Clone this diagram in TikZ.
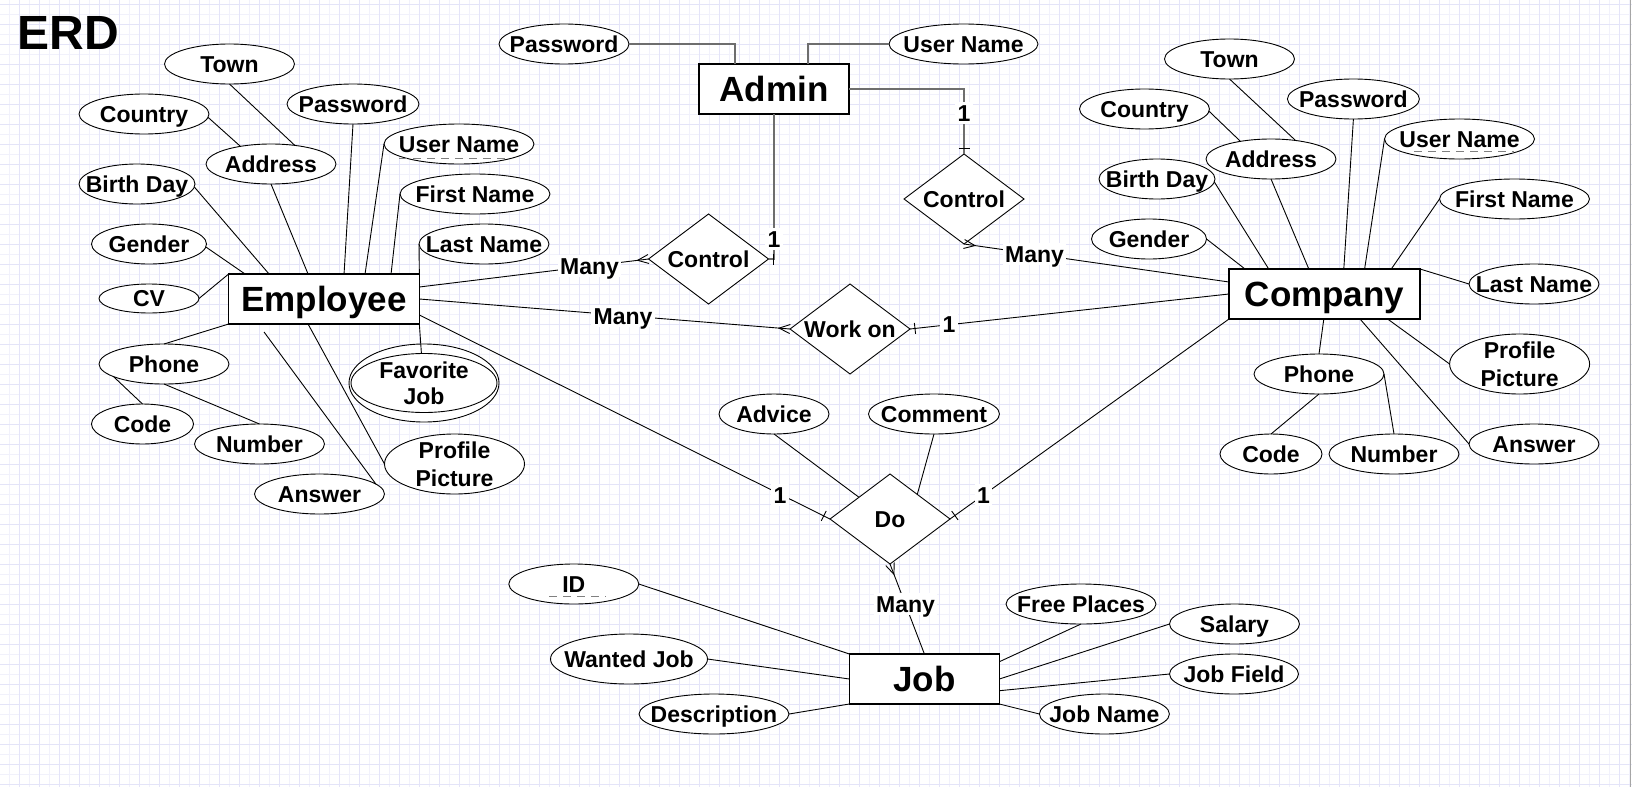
\documentclass[tikz,border=0pt]{standalone}
\usepackage{fontspec}
\setmainfont{Liberation Sans}
\usetikzlibrary{shapes.geometric,calc}
\definecolor{admgray}{RGB}{110,110,110}
\definecolor{gridmaj}{RGB}{228,228,248}
\definecolor{gridmin}{RGB}{241,241,251}
\newcommand\attrfont{\fontsize{23}{27}\selectfont\bfseries}
\newcommand\entfont{\fontsize{35}{40}\selectfont\bfseries}
\newcommand\crowfoot[2]{%
  \draw[conn] ($(#1)!4.5pt!90:(#2)$) -- ($(#1)!11pt!(#2)$) -- ($(#1)!4.5pt!-90:(#2)$);}
\newcommand\onetick[3]{%
  \coordinate (tk) at ($(#1)!#3!(#2)$);
  \draw[conn] ($(tk)!5.5pt!90:(#2)$) -- ($(tk)!5.5pt!-90:(#2)$);}
\begin{document}
\begin{tikzpicture}[x=1pt,y=-1pt,
  attr/.style={ellipse, draw, line width=0.9pt, fill=white, inner sep=0pt, outer sep=0pt, minimum height=40pt},
  txt/.style={font=\attrfont, inner sep=0pt, text height=16.6pt, text depth=0pt},
  ent/.style={rectangle, draw, line width=1.1pt, fill=white, inner sep=0pt, outer sep=0pt, minimum height=50pt, font=\entfont, text height=25pt, text depth=0pt},
  rel/.style={diamond, draw, line width=0.9pt, fill=white, inner sep=0pt, outer sep=0pt, minimum width=120pt, minimum height=90pt},
  conn/.style={line width=0.9pt, black},
  adm/.style={line width=1.6pt, admgray},
  card/.style={font=\attrfont, fill=white, inner sep=2.5pt, text height=16.6pt, text depth=0pt},
  keyline/.style={draw=gray, line width=1.4pt, dash pattern=on 8pt off 6pt},
  every label/.style={txt}
]
\useasboundingbox (0,0) rectangle (1632,787);
\fill[white] (0,0) rectangle (1632,787);
% grid
\foreach \k in {0,...,81} {\draw[gridmin, line width=1pt] (9.3+20*\k,0) -- (9.3+20*\k,787);}
\foreach \k in {0,...,39} {\draw[gridmin, line width=1pt] (0,14.3+20*\k) -- (1632,14.3+20*\k);}
\foreach \k in {0,...,81} {\draw[gridmaj, line width=1pt] (19.3+20*\k,0) -- (19.3+20*\k,787);}
\foreach \k in {0,...,39} {\draw[gridmaj, line width=1pt] (0,4.3+20*\k) -- (1632,4.3+20*\k);}
\draw[gray!70, line width=1pt] (1630.5,0) -- (1630.5,787);

\node[font=\fontsize{48}{52}\selectfont\bfseries, anchor=base west, inner sep=0pt] (title) at (17.5,49.5) {ERD};

% ---------- Employee ----------
\node[ent, minimum width=190.7pt] (emp) at (324,299) {Employee};
\node[attr, minimum width=130pt, label=center:Town] (etown) at (229.5,64) {};
\node[attr, minimum width=130pt, label=center:Country] (ecountry) at (144,114) {};
\node[attr, minimum width=132pt, label=center:Password] (epw) at (353,104) {};
\node[attr, minimum width=130pt, label=center:Address] (eaddr) at (271,164) {};
\node[attr, minimum width=150pt, label=center:User Name] (eun) at (459,144) {};
\node[attr, minimum width=116pt, label=center:Birth Day] (ebday) at (137,184) {};
\node[attr, minimum width=150pt, label=center:First Name] (efn) at (475,194) {};
\node[attr, minimum width=115pt, label=center:Gender] (egender) at (149,244) {};
\node[attr, minimum width=130pt, label=center:Last Name] (eln) at (484,244) {};
\node[attr, minimum width=100pt, minimum height=29pt, label=center:CV] (ecv) at (149,298.5) {};
\node[attr, minimum width=130pt, label=center:Phone] (ephone) at (164,364) {};
\node[attr, minimum width=102pt, label=center:Code] (ecode) at (142.5,424) {};
\node[attr, minimum width=130pt, label=center:Number] (enum) at (259.5,444) {};
\node[attr, minimum width=130pt, label=center:Answer] (eans) at (319.5,494) {};
\node[attr, minimum width=140pt, minimum height=60pt, label={[yshift=13.7pt]center:Profile}, label={[yshift=-13.7pt]center:Picture}] (eprof) at (454.5,464) {};
\node[attr, minimum width=150pt, minimum height=78pt] (efav) at (424,383) {};
\node[attr, minimum width=146pt, minimum height=59pt, label={[yshift=13.3pt]center:Favorite}, label={[yshift=-13.3pt]center:Job}] (efavin) at (424,383) {};

% ---------- Admin ----------
\node[ent, minimum width=150pt] (admin) at (774,89) {Admin};
\node[attr, minimum width=130pt, label=center:Password] (apw) at (564,44) {};
\node[attr, minimum width=149pt, label=center:User Name] (aun) at (963.5,44) {};

% ---------- Relationships ----------
\node[rel, label=center:Control] (ctrlL) at (708.5,259) {};
\node[rel, label=center:Control] (ctrlR) at (964,199) {};
\node[rel, label=center:Work on] (workon) at (850,329) {};
\node[rel, label=center:Do] (do) at (890,519) {};
\node[attr, minimum width=110pt, label=center:Advice] (dadv) at (774,414) {};
\node[attr, minimum width=131pt, label=center:Comment] (dcom) at (934,414) {};

% ---------- Company ----------
\node[ent, minimum width=191pt] (comp) at (1324.5,294) {Company};
\node[attr, minimum width=130pt, label=center:Town] (ctown) at (1229.5,59) {};
\node[attr, minimum width=130pt, label=center:Country] (ccountry) at (1144.5,109) {};
\node[attr, minimum width=132pt, label=center:Password] (cpw) at (1353.4,99) {};
\node[attr, minimum width=130pt, label=center:Address] (caddr) at (1271,159) {};
\node[attr, minimum width=150pt, label=center:User Name] (cun) at (1459.5,139) {};
\node[attr, minimum width=116pt, label=center:Birth Day] (cbday) at (1157,179) {};
\node[attr, minimum width=150pt, label=center:First Name] (cfn) at (1514.5,199) {};
\node[attr, minimum width=115pt, label=center:Gender] (cgender) at (1149,239) {};
\node[attr, minimum width=130pt, label=center:Last Name] (cln) at (1534,284) {};
\node[attr, minimum width=130pt, label=center:Phone] (cphone) at (1319,374) {};
\node[attr, minimum width=102pt, label=center:Code] (ccode) at (1271,454) {};
\node[attr, minimum width=130pt, label=center:Number] (cnum) at (1394,454) {};
\node[attr, minimum width=140pt, minimum height=60pt, label={[yshift=13.7pt]center:Profile}, label={[yshift=-13.7pt]center:Picture}] (cprof) at (1519.6,364) {};
\node[attr, minimum width=130pt, label=center:Answer] (cans) at (1534,444) {};

% ---------- Job ----------
\node[ent, minimum width=150pt] (job) at (924.4,679) {Job};
\node[attr, minimum width=130pt, label=center:ID] (jid) at (573.8,584) {};
\node[attr, minimum width=157pt, minimum height=50pt, label=center:Wanted Job] (jwant) at (629,659) {};
\node[attr, minimum width=150pt, label=center:Description] (jdesc) at (714,714) {};
\node[attr, minimum width=150pt, label=center:Free Places] (jfree) at (1081,604) {};
\node[attr, minimum width=130pt, label=center:Salary] (jsal) at (1234.5,624) {};
\node[attr, minimum width=129pt, label=center:Job Field] (jfield) at (1234,674) {};
\node[attr, minimum width=130pt, label=center:Job Name] (jname) at (1104.4,714) {};

% key underlines
\draw[keyline] ([xshift=-60pt,yshift=-14.7pt]eun.center) -- ([xshift=48pt,yshift=-14.7pt]eun.center);
\draw[keyline] ([xshift=-45.5pt,yshift=-12.7pt]cun.center) -- ([xshift=54.5pt,yshift=-12.7pt]cun.center);
\draw[keyline] ([xshift=-24.8pt,yshift=-12.7pt]jid.center) -- ([xshift=31.9pt,yshift=-12.7pt]jid.center);

% ---------- Employee attribute lines ----------
\draw[conn] (etown.south) -- (eaddr.38);
\draw[conn] (ecountry.-3) -- (eaddr.150);
\draw[conn] (ebday.-3) -- ([xshift=40.4pt]emp.north west);
\draw[conn] (egender.-3) -- ([xshift=16.4pt]emp.north west);
\draw[conn] (ecv.east) -- (emp.north west);
\draw[conn] (eaddr.south) -- ([xshift=79.4pt]emp.north west);
\draw[conn] (epw.south) -- ([xshift=115.4pt]emp.north west);
\draw[conn] (eun.west) -- ([xshift=136.4pt]emp.north west);
\draw[conn] (efn.west) -- ([xshift=162.4pt]emp.north west);
\draw[conn] (eln.west) -- (emp.north east);
\draw[conn] (emp.south west) -- (ephone.north);
\draw[conn] (ephone.194) -- (ecode.north);
\draw[conn] (ephone.south) -- (enum.north);
\draw[conn] ([xshift=35.4pt,yshift=-8pt]emp.south west) -- (eans.10);
\draw[conn] ([xshift=79.4pt]emp.south west) -- (eprof.west);
\draw[conn] (emp.south east) -- (efavin.95);

% ---------- Company attribute lines ----------
\draw[conn] (ctown.south) -- (caddr.37);
\draw[conn] (ccountry.-2) -- (caddr.150);
\draw[conn] (cbday.-3) -- ([xshift=39.7pt]comp.north west);
\draw[conn] (cgender.east) -- ([xshift=16pt]comp.north west);
\draw[conn] (caddr.south) -- ([xshift=79.8pt]comp.north west);
\draw[conn] (cpw.south) -- ([xshift=114.8pt]comp.north west);
\draw[conn] (cun.west) -- ([xshift=135.6pt]comp.north west);
\draw[conn] (cfn.west) -- ([xshift=162.3pt]comp.north west);
\draw[conn] (cln.west) -- (comp.north east);
\draw[conn] ([xshift=94.8pt]comp.south west) -- (cphone.north);
\draw[conn] (cphone.south) -- (ccode.north);
\draw[conn] (cphone.east) -- (cnum.north);
\draw[conn] ([xshift=158.6pt]comp.south west) -- (cprof.west);
\draw[conn] ([xshift=131pt]comp.south west) -- (cans.west);

% ---------- Admin lines ----------
\draw[adm] (apw.east) -| ([xshift=36pt]admin.north west);
\draw[adm] (aun.west) -| ([xshift=109pt]admin.north west);
\draw[adm] (admin.south) |- (ctrlL.east);
\draw[adm] (admin.east) -| (ctrlR.north);
\coordinate (cLc) at (admin.south |- ctrlL.east);
\coordinate (cRc) at (admin.east -| ctrlR.north);

% ---------- Relationship lines ----------
\coordinate (eL) at ([yshift=12pt]emp.east);
\coordinate (eD) at ([yshift=-16pt]emp.east);
\coordinate (cM) at ([yshift=12pt]comp.west);
\draw[conn] (eL) -- (ctrlL.west);
\draw[conn] (emp.east) -- (workon.west);
\draw[conn] (workon.east) -- (comp.west);
\draw[conn] (ctrlR.south) -- (cM);
\draw[conn] (eD) -- (do.west);
\draw[conn] (comp.south west) -- (do.east);
\draw[conn] (do.south) -- (job.north);
\draw[conn] (dadv.south) -- (do.145);
\draw[conn] (dcom.south) -- (do.42);

% ---------- Job lines ----------
\draw[conn] (jid.east) -- (job.north west);
\draw[conn] (jwant.east) -- (job.west);
\draw[conn] (jdesc.east) -- (job.south west);
\draw[conn] (jfree.south) -- ([yshift=-7.7pt]job.north east);
\draw[conn] (jsal.west) -- (job.east);
\draw[conn] (jfield.west) -- ([yshift=-11.7pt]job.east);
\draw[conn] (jname.west) -- (job.south east);

% crow's feet and one-ticks
\crowfoot{ctrlL.west}{eL}
\crowfoot{workon.west}{emp.east}
\crowfoot{ctrlR.south}{cM}
\crowfoot{do.south}{job.north}
\onetick{workon.east}{comp.west}{5pt}
\onetick{ctrlL.east}{cLc}{5.4pt}
\onetick{ctrlR.north}{cRc}{6pt}
\onetick{do.west}{eD}{7pt}
\onetick{do.east}{comp.south west}{6pt}

% cardinality labels
\node[card] (mL) at (589.5,266) {Many};
\node[card] (mW) at (623,316) {Many};
\node[card] (oW) at (949,324) {1};
\node[card] (oL) at (774,239) {1};
\node[card] (oR) at (964,113) {1};
\node[card] (mR) at (1034.5,254) {Many};
\node[card] (oDL) at (780,495) {1};
\node[card] (oDR) at (983.5,495) {1};
\node[card] (mD) at (905.5,604) {Many};
\end{tikzpicture}
\end{document}
